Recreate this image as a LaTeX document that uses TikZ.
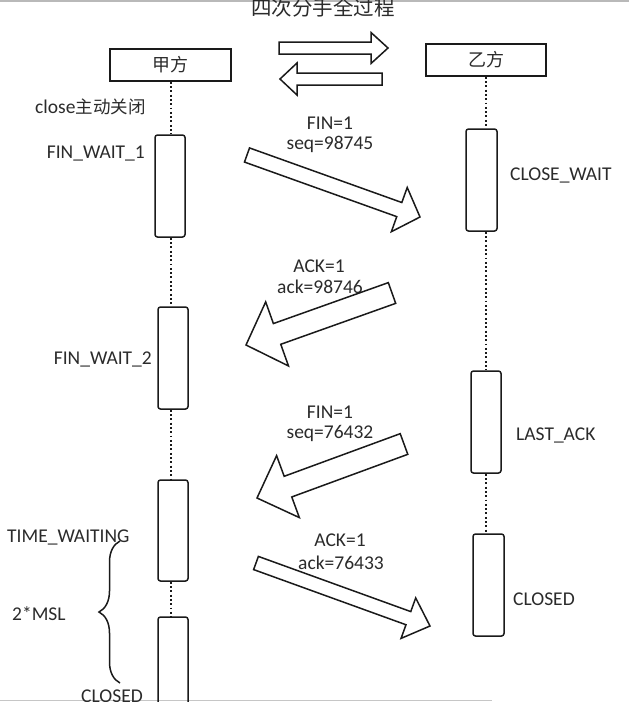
\documentclass[tikz,border=0pt]{standalone}
\usepackage{fontspec}
\setmainfont{Carlito}
\newfontfamily\cjk{Noto Sans CJK SC}
\usetikzlibrary{calc,decorations.pathreplacing}
\definecolor{txt}{HTML}{2B2B2B}
\definecolor{ln}{HTML}{1A1A1A}
% tail, tip, half body width, half head width, head length
\newcommand{\blockarrow}[5]{%
  \coordinate (ba-base) at ($(#2)!#5!(#1)$);
  \draw[blockarr]
    ($(#1)!#3!90:(#2)$) -- ($(ba-base)!#3!90:(#2)$) -- ($(ba-base)!#4!90:(#2)$)
    -- (#2)
    -- ($(ba-base)!#4!-90:(#2)$) -- ($(ba-base)!#3!-90:(#2)$) -- ($(#1)!#3!-90:(#2)$) -- cycle;
}
\begin{document}
\begin{tikzpicture}[x=1pt,y=-1pt,
  lbl/.style={text=txt,font=\fontsize{19.5}{22}\selectfont,inner sep=0pt},
  headbox/.style={draw=ln,line width=1.5pt,minimum width=121pt,minimum height=32pt,inner sep=0pt,text=txt,font=\cjk\fontsize{18}{21}\selectfont},
  actbox/.style={draw=ln,line width=1.5pt,rounded corners=2.5pt,minimum width=30pt,inner sep=0pt},
  life/.style={draw=ln,line width=2pt,dash pattern=on 1.9pt off 2.4pt},
  blockarr/.style={draw=ln,line width=1.5pt,line join=miter},
]
\clip (0,0) rectangle (629,702);
\fill[white] (0,0) rectangle (629,702);
\fill[gray!55] (0,0) rectangle (629,1.5);
\fill[gray!45] (0,699.5) rectangle (492,701);

% title
\node[lbl,font=\cjk\fontsize{20.5}{22}\selectfont] (title) at (323,8) {四次分手全过程};

% header boxes
\node[headbox] (jia) at (170.5,65) {甲方};
\node[headbox,minimum width=120pt] (yi) at (486,60) {乙方};

% double arrows
\coordinate (d1t) at (279,48); \coordinate (d1h) at (388,48);
\coordinate (d2t) at (382,79); \coordinate (d2h) at (280,79);
\blockarrow{d1t}{d1h}{6pt}{15.5pt}{17pt}
\blockarrow{d2t}{d2h}{6pt}{16pt}{17pt}

% activation boxes left
\node[actbox,minimum height=102pt] (L1) at (170,186) {};
\node[actbox,minimum height=102pt] (L2) at (173,358) {};
\node[actbox,minimum height=101pt] (L3) at (173,530.5) {};
\node[actbox,minimum height=103pt] (L4) at (173,668.5) {};
% activation boxes right
\node[actbox,minimum width=31pt,minimum height=102pt] (R1) at (481.5,180) {};
\node[actbox,minimum height=102pt] (R2) at (486,422) {};
\node[actbox,minimum width=31pt,minimum height=102pt] (R3) at (488.5,585) {};

% lifelines
\draw[life] (jia.south) -- (jia.south |- L1.north);
\draw[life] (jia.south |- L1.south) -- (jia.south |- L2.north);
\draw[life] (jia.south |- L2.south) -- (jia.south |- L3.north);
\draw[life] (jia.south |- L3.south) -- (jia.south |- L4.north);
\draw[life] (yi.south) -- (yi.south |- R1.north);
\draw[life] (yi.south |- R1.south) -- (yi.south |- R2.north);
\draw[life] (yi.south |- R2.south) -- (yi.south |- R3.north);

% state labels
\node[lbl,anchor=west] (close) at (35,107) {close{\cjk\fontsize{17.5}{21}\selectfont 主动关闭}};
\node[lbl,anchor=east] (fw1) at (145,154) {FIN\_WAIT\_1};
\node[lbl,anchor=west] (cw) at (510,175) {CLOSE\_WAIT};
\node[lbl,anchor=east] (fw2) at (152,359) {FIN\_WAIT\_2};
\node[lbl,anchor=west] (la) at (516,435) {LAST\_ACK};
\node[lbl,anchor=west] (tw) at (7,537) {TIME\_WAITING};
\node[lbl,anchor=west] (msl) at (12,614) {2*MSL};
\node[lbl,anchor=west] (cr) at (513,599) {CLOSED};
\node[lbl,anchor=base east] (cl) at (143,702) {CLOSED};

% message labels
\node[lbl] (m1a) at (330,123) {FIN=1};
\node[lbl] (m1b) at (330,144) {seq=98745};
\node[lbl] (m2a) at (319,266) {ACK=1};
\node[lbl] (m2b) at (320,287) {ack=98746};
\node[lbl] (m3a) at (330,412) {FIN=1};
\node[lbl] (m3b) at (330,433) {seq=76432};
\node[lbl] (m4a) at (340,540) {ACK=1};
\node[lbl] (m4b) at (341,563) {ack=76433};

% big message arrows
\coordinate (a1t) at (247,155); \coordinate (a1h) at (420,217);
\coordinate (a2t) at (392,293); \coordinate (a2h) at (246,345);
\coordinate (a3t) at (404,444); \coordinate (a3h) at (257,498);
\coordinate (a4t) at (256,563); \coordinate (a4h) at (430,626);
\blockarrow{a1t}{a1h}{7.5pt}{23.5pt}{22pt}
\blockarrow{a2t}{a2h}{11pt}{34pt}{33pt}
\blockarrow{a3t}{a3h}{11pt}{33pt}{33pt}
\blockarrow{a4t}{a4h}{7pt}{21.5pt}{23pt}

% brace
\coordinate (brb) at (120,683); \coordinate (brt) at (120,541);
\draw[ln,line width=1.5pt,decorate,decoration={brace,amplitude=21pt}] (brb) -- (brt);
\end{tikzpicture}
\end{document}
